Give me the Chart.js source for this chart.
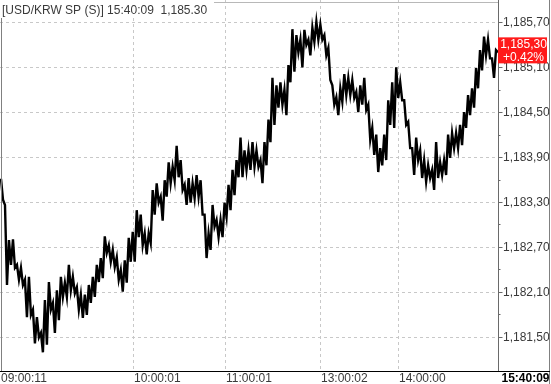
<!DOCTYPE html>
<html>
<head>
<meta charset="utf-8">
<script src="https://cdn.jsdelivr.net/npm/chart.js@4"></script>
<style>
html,body{margin:0;padding:0;background:#fff;}
canvas{display:block;}
</style>
</head>
<body>
<canvas id="c" width="551" height="384"></canvas>
<script>
// ---- data ----
const titleText = '[USD/KRW SP (S)] 15:40:09  1,185.30';
const lastPriceLabel = '1,185,30';
const changeLabel = '+0.42%';
const lastTimeLabel = '15:40:09';

// per-slot highs and lows of the tick series (left to right)
const highs = [
1183.61,1183.26,1182.79,1182.80,1182.46,1182.42,1182.26,1182.30,1181.86,1181.76,
1181.55,1181.99,1182.23,1181.95,1182.12,1182.30,1182.22,1182.46,1182.30,1182.16,
1182.06,1182.06,1182.19,1182.30,1182.46,1182.55,1182.84,1182.72,1182.66,1182.56,
1182.39,1182.52,1182.82,1182.90,1183.19,1183.13,1182.88,1182.88,1183.46,1183.55,
1183.37,1183.59,1183.83,1183.77,1184.05,1183.86,1183.53,1183.62,1183.55,1183.66,
1183.59,1183.13,1182.88,1183.26,1183.06,1183.06,1183.29,1183.53,1183.73,1183.86,
1184.16,1183.99,1183.99,1184.10,1183.99,1183.86,1184.10,1184.40,1184.96,1184.86,
1184.90,1184.80,1185.13,1185.61,1185.53,1185.47,1185.60,1185.47,1185.63,1185.71,
1185.67,1185.53,1185.36,1184.86,1184.70,1184.82,1185.01,1184.96,1184.93,1184.77,
1184.86,1184.96,1184.60,1184.29,1184.20,1184.02,1184.20,1184.66,1184.90,1185.10,
1184.90,1184.66,1184.37,1184.02,1184.16,1183.99,1183.86,1183.79,1183.73,1184.10,
1183.83,1183.86,1184.20,1184.22,1184.22,1184.33,1184.50,1184.73,1184.82,1185.09,
1185.33,1185.51,1185.47,1185.22,1185.33
];
const lows = [
1183.33,1182.19,1182.46,1182.42,1182.26,1182.19,1181.76,1181.79,1181.41,1181.49,
1181.29,1181.39,1181.86,1181.55,1181.72,1182.03,1182.03,1182.12,1182.08,1181.86,
1181.75,1181.79,1181.95,1182.03,1182.23,1182.28,1182.62,1182.50,1182.43,1182.26,
1182.10,1182.22,1182.50,1182.50,1182.83,1182.72,1182.60,1182.75,1183.13,1183.29,
1183.05,1183.37,1183.55,1183.59,1183.63,1183.46,1183.26,1183.29,1183.35,1183.37,
1183.13,1182.55,1182.66,1182.97,1182.83,1182.83,1183.10,1183.19,1183.39,1183.63,
1183.63,1183.73,1183.73,1183.77,1183.77,1183.55,1183.79,1184.10,1184.33,1184.56,
1184.60,1184.46,1184.90,1185.04,1185.30,1185.10,1185.40,1185.26,1185.44,1185.47,
1185.47,1185.26,1184.93,1184.60,1184.46,1184.64,1184.73,1184.73,1184.69,1184.50,
1184.60,1184.53,1184.13,1183.93,1183.70,1183.79,1183.86,1184.33,1184.29,1184.69,
1184.66,1184.33,1184.02,1183.66,1183.86,1183.62,1183.57,1183.62,1183.46,1183.62,
1183.66,1183.66,1183.89,1184.02,1184.02,1184.06,1184.29,1184.46,1184.56,1184.82,
1185.06,1185.26,1185.22,1184.96,1185.30
];

// x axis: tick index (point number) and its time label
const xTickIdx = [0, 66, 112, 160, 199];
const xTickLabels = ['09:00:11','10:00:01','11:00:01','13:00:02','14:00:00'];

// y axis ticks
const yTicks = [1181.5,1182.1,1182.7,1183.3,1183.9,1184.5,1185.1,1185.7];
const yTickLabels = ['1,181,50','1,182,10','1,182,70','1,183,30','1,183,90','1,184,50','1,185,10','1,185,70'];
const yMin = 1181.04, yMax = 1186.0;

// ---- build series from arrays ----
const series = [];
for (let i = 0; i < highs.length; i++) {
  series.push({x: series.length, y: highs[i]});
  series.push({x: series.length, y: lows[i]});
}
const lastPrice = lows[lows.length - 1];

const FONT = '12px "Liberation Sans", Arial, sans-serif';
const FONT_B = 'bold 12px "Liberation Sans", Arial, sans-serif';

const decor = {
  id: 'decor',
  beforeDatasetsDraw(chart) {
    const {ctx, chartArea: a, scales: {x, y}} = chart;
    ctx.save();
    ctx.strokeStyle = '#c8c8c8';
    ctx.lineWidth = 1;
    ctx.setLineDash([3, 3]);
    yTicks.forEach(v => {
      const py = Math.round(y.getPixelForValue(v)) + 0.5;
      ctx.beginPath(); ctx.moveTo(a.left, py); ctx.lineTo(a.right, py); ctx.stroke();
    });
    xTickIdx.forEach((idx, k) => {
      if (k === 0) return;
      const px = Math.round(x.getPixelForValue(idx)) + 0.5;
      ctx.beginPath(); ctx.moveTo(px, a.top); ctx.lineTo(px, a.bottom); ctx.stroke();
    });
    ctx.restore();
  },
  afterDraw(chart) {
    const {ctx, chartArea: a, scales: {x, y}} = chart;
    const W = chart.width, H = chart.height;
    ctx.save();
    ctx.setLineDash([]);
    ctx.lineWidth = 1;
    // top border
    ctx.strokeStyle = '#b8b8b8';
    ctx.beginPath(); ctx.moveTo(0, 2.5); ctx.lineTo(a.right, 2.5); ctx.stroke();
    // left border
    ctx.strokeStyle = '#808080';
    ctx.beginPath(); ctx.moveTo(1.5, 0); ctx.lineTo(1.5, a.bottom); ctx.stroke();
    // right border
    ctx.beginPath(); ctx.moveTo(W - 1.5, 0); ctx.lineTo(W - 1.5, H); ctx.stroke();
    // y axis line
    const ax = Math.round(a.right) + 0.5;
    ctx.strokeStyle = '#6a6a6a';
    ctx.beginPath(); ctx.moveTo(ax, 0); ctx.lineTo(ax, a.bottom); ctx.stroke();
    // bottom axis line
    ctx.strokeStyle = '#000';
    const by = Math.round(a.bottom) + 0.5;
    ctx.beginPath(); ctx.moveTo(0, by); ctx.lineTo(W - 1, by); ctx.stroke();

    // y ticks + labels
    ctx.strokeStyle = '#6a6a6a';
    ctx.fillStyle = '#3a3a3a';
    ctx.font = FONT;
    ctx.textAlign = 'left';
    ctx.textBaseline = 'middle';
    ctx.save();
    ctx.beginPath(); ctx.rect(ax, 0, W - 2 - ax, a.bottom); ctx.clip();
    yTicks.forEach((v, k) => {
      const py = Math.round(y.getPixelForValue(v)) + 0.5;
      ctx.beginPath(); ctx.moveTo(ax, py); ctx.lineTo(ax + 4, py); ctx.stroke();
      ctx.fillText(yTickLabels[k], ax + 4.5, py + 0.5);
      if (k < yTicks.length - 1) {
        const pm = Math.round(y.getPixelForValue((v + yTicks[k + 1]) / 2)) + 0.5;
        ctx.beginPath(); ctx.moveTo(ax, pm); ctx.lineTo(ax + 2, pm); ctx.stroke();
      }
    });
    ctx.restore();

    // x labels
    ctx.fillStyle = '#3a3a3a';
    xTickIdx.forEach((idx, k) => {
      let px = Math.round(x.getPixelForValue(idx)) + 1;
      if (k === 0) px = 1;
      ctx.fillText(xTickLabels[k], px, by + 7);
    });
    ctx.font = FONT_B;
    ctx.fillStyle = '#000';
    ctx.fillText(lastTimeLabel, ax + 3, by + 7);

    // last price box
    const ly = y.getPixelForValue(lastPrice);
    ctx.fillStyle = '#ff1a1a';
    ctx.fillRect(ax - 0.5, ly - 15, 49, 26);
    ctx.fillStyle = '#fff';
    ctx.font = FONT;
    ctx.textAlign = 'center';
    ctx.fillText(lastPriceLabel, ax + 25, ly - 8);
    ctx.fillText(changeLabel, ax + 25, ly + 5);

    // title
    ctx.fillStyle = '#fff';
    ctx.fillRect(0, 0, 214, 18);
    ctx.fillStyle = '#3a3a3a';
    ctx.textAlign = 'left';
    ctx.fillText(titleText, 2, 11);
    ctx.restore();
  }
};

new Chart(document.getElementById('c'), {
  type: 'line',
  data: {
    datasets: [{
      data: series,
      borderColor: '#000',
      borderWidth: 2.4,
      pointRadius: 0,
      tension: 0,
      fill: false
    }]
  },
  options: {
    responsive: false,
    animation: false,
    events: [],
    layout: {padding: {left: 0, top: 0, right: 53, bottom: 13}},
    plugins: {legend: {display: false}, tooltip: {enabled: false}},
    scales: {
      x: {type: 'linear', min: -0.5, max: series.length - 1, display: false},
      y: {type: 'linear', min: yMin, max: yMax, display: false}
    }
  },
  plugins: [decor]
});
</script>
</body>
</html>
